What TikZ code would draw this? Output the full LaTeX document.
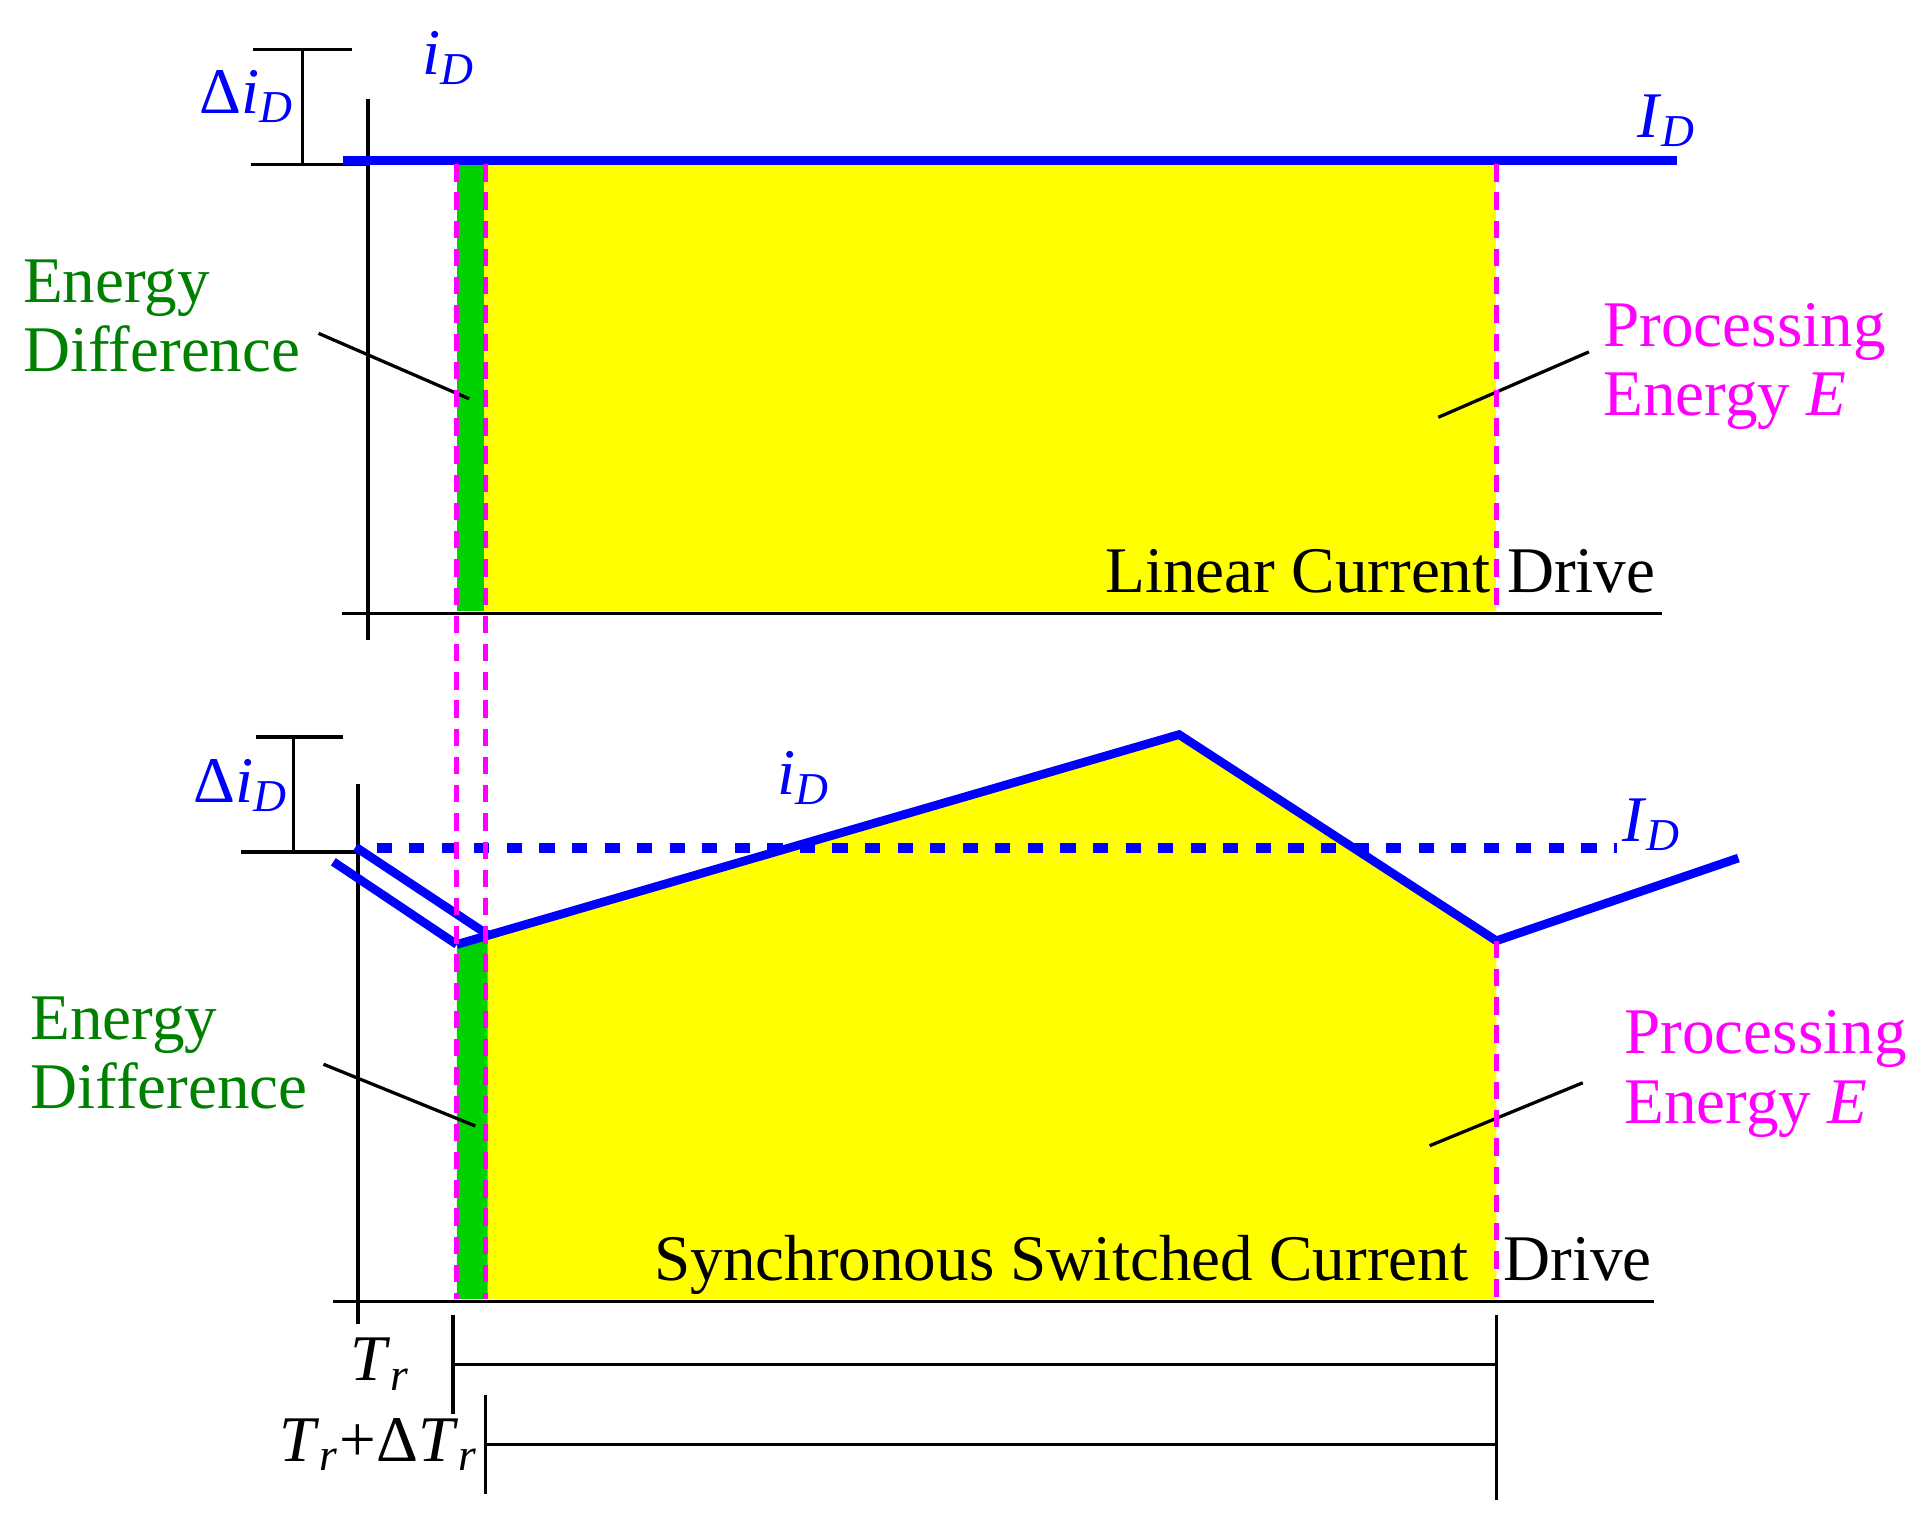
\documentclass[tikz,border=0pt]{standalone}
\usepackage{fontspec}
\setmainfont{Liberation Serif}
\newcommand{\iD}{\textit{i}\textsubscript{\textit{D}}}
\newcommand{\ID}{\textit{I}\textsubscript{\textit{D}}}
\newcommand{\Tr}{\textit{T}\textsubscript{\textit{r}}}
\begin{document}
\begin{tikzpicture}[x=0.01cm,y=-0.01cm,
  ax/.style={black,line width=0.75pt},
  cur/.style={bl,line width=2pt},
  mag/.style={mg,line width=1.1pt,dash pattern=on 4pt off 2.5pt},
  lbl/.style={font=\fontsize{15}{16}\selectfont,inner sep=0pt},
  grn/.style={lbl,text=dg,align=left},
  pnk/.style={lbl,text=mg,align=left},
  blu/.style={lbl,text=bl}]
\definecolor{gr}{RGB}{0,210,0}
\definecolor{dg}{RGB}{0,128,0}
\definecolor{mg}{RGB}{255,0,255}
\definecolor{bl}{RGB}{0,0,255}
\definecolor{yl}{RGB}{255,255,0}
\useasboundingbox (0,0) rectangle (1560,1230);
% ---- top panel
\fill[yl] (392,133) rectangle (1212,495);
\fill[gr] (370,133) rectangle (392,495);
\draw[ax] (298,80) -- (298,518);
\draw[ax] (277,497) -- (1346,497);
\draw[ax] (205,40) -- (285,40);
\draw[ax] (245,40) -- (245,133);
\draw[ax] (203,133) -- (298,133);
\draw[cur] (278,130) -- (1358,130);
\node[blu] (dtop) at (200,78) {Δ\iD};
\node[blu] (itop) at (364,47) {\iD};
\node[blu] (Itop) at (1350,98) {\ID};
\node[grn,anchor=west] (edt) at (18,256) {Energy\\Difference};
\coordinate (edta) at (258,270); \coordinate (edtb) at (380,323);
\draw[ax] (edta) -- (edtb);
\node[pnk,anchor=west] (pet) at (1298,297) {Processing\\Energy \textit{E}};
\coordinate (peta) at (1287,285); \coordinate (petb) at (1165,338);
\draw[ax] (peta) -- (petb);
\node[lbl,anchor=base east] (lcd) at (1208,480) {Linear Current};
\node[lbl,anchor=base west] (lcd2) at (1220,480) {Drive};
% ---- bottom panel
\fill[yl] (392,758) -- (955,595) -- (1212,762) -- (1212,1052) -- (392,1052) -- cycle;
\fill[gr] (370,765) -- (395,758) -- (395,1052) -- (370,1052) -- cycle;
\draw[ax] (290,635) -- (290,1072);
\draw[ax] (270,1054) -- (1340,1054);
\draw[ax] (207,597) -- (278,597);
\draw[ax] (238,597) -- (238,690);
\draw[ax] (195,690) -- (290,690);
\draw[bl,line width=2.2pt,dash pattern=on 3.5pt off 4pt] (305,687) -- (1310,687);
\draw[cur] (270,698) -- (370,765);
\draw[cur] (288,686) -- (395,757);
\draw[cur] (370,765) -- (955,595) -- (1212,762) -- (1408,695);
\node[blu] (dbot) at (195,636) {Δ\iD};
\node[blu] (ibot) at (651,630) {\iD};
\node[blu] (Ibot) at (1338,668) {\ID};
\node[grn,anchor=west] (edb) at (24,853) {Energy\\Difference};
\coordinate (edba) at (262,862); \coordinate (edbb) at (385,912);
\draw[ax] (edba) -- (edbb);
\node[pnk,anchor=west] (peb) at (1315,870) {Processing\\Energy \textit{E}};
\coordinate (peba) at (1282,877); \coordinate (pebb) at (1158,928);
\draw[ax] (peba) -- (pebb);
\node[lbl,anchor=base east] (ssc) at (1190,1037) {Synchronous Switched Current};
\node[lbl,anchor=base west] (ssc2) at (1217,1037) {Drive};
% ---- magenta dashed
\draw[mag] (370,133) -- (370,1052);
\draw[mag] (393,133) -- (393,1052);
\draw[mag] (1212,133) -- (1212,495);
\draw[mag] (1212,762) -- (1212,1052);
% ---- time axis
\draw[ax] (367,1065) -- (367,1145);
\draw[ax] (1212,1065) -- (1212,1215);
\draw[ax] (393,1130) -- (393,1210);
\draw[ax] (367,1105) -- (1212,1105);
\draw[ax] (393,1170) -- (1212,1170);
\node[lbl] (tr) at (308,1105) {\Tr};
\node[lbl,anchor=east] (trd) at (388,1170) {\Tr+Δ\Tr};
\end{tikzpicture}
\end{document}
